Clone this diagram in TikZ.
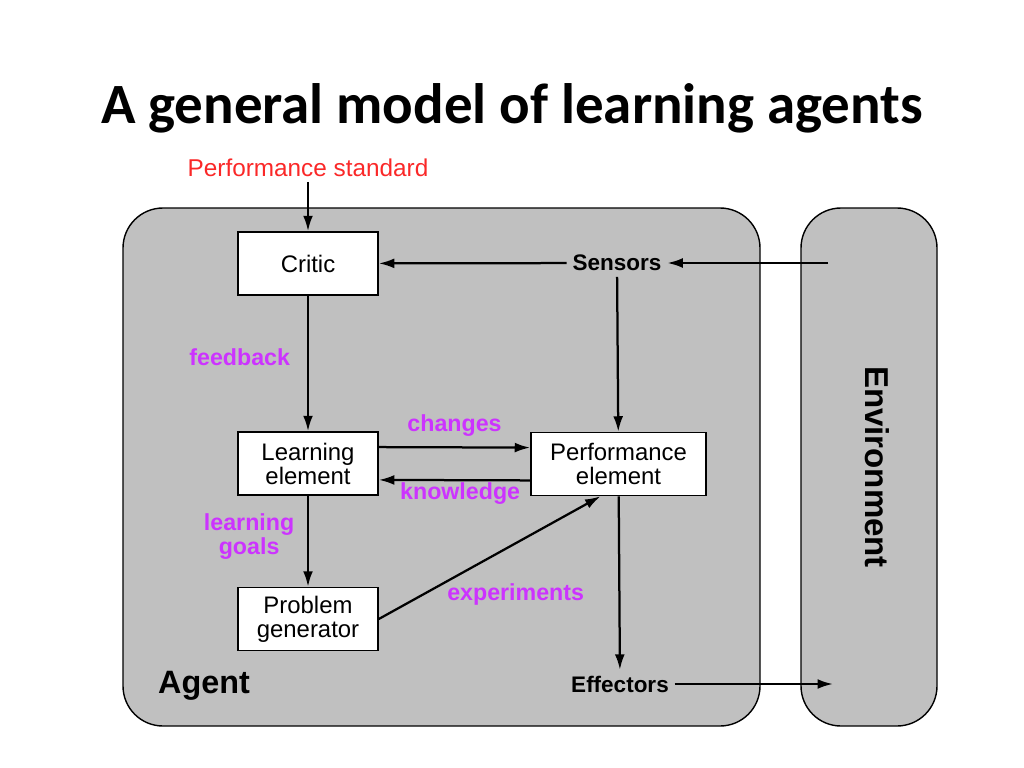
\documentclass[tikz,border=0pt]{standalone}
\usepackage{fontspec}
\setmainfont{Liberation Sans}
\newfontfamily\titlefont{Carlito}
\usetikzlibrary{arrows.meta,positioning}
\definecolor{violet}{RGB}{204,51,255}
\definecolor{stdred}{RGB}{250,40,40}
\definecolor{panel}{RGB}{192,192,192}
\tikzset{font={\fontsize{17pt}{17pt}\selectfont}}
\tikzset{
	block/.style={draw,line width=1.1pt,fill=white,align=center,minimum width=3.5cm,minimum height=1.575cm,inner sep=2pt},
	hint/.style={text=violet,font={\fontsize{16.5pt}{17pt}\selectfont\bfseries},align=center,inner sep=1pt},
	port/.style={font={\fontsize{16pt}{17pt}\selectfont\bfseries},inner sep=4pt},
	panelbox/.style={draw,line width=1pt,fill=panel,rounded corners=1cm},
	arr/.style={line width=1.6pt,-{Latex[length=11pt,width=7pt]}}
}

\begin{document}
\begin{tikzpicture}[x=0.025cm,y=-0.025cm]
	\useasboundingbox (0,0) rectangle (1024,768);
	\node[font={\titlefont\fontsize{40.5pt}{40pt}\selectfont\bfseries}] (title) at (512,108) {A general model of learning agents};
	% agent and environment
	\draw[panelbox] (123,208) rectangle (760,726);
	\draw[panelbox] (801,208) rectangle (937,726);
	\node[font={\fontsize{23pt}{23pt}\selectfont\bfseries}] (agent) at (204,686) {Agent};
	\node[font={\fontsize{23.5pt}{24pt}\selectfont\bfseries},rotate=-90] (env) at (877,467) {Environment};
	%
	\node[text=stdred,font={\fontsize{17.3pt}{17pt}\selectfont}] (std) at (308,168) {Performance standard};
	\node[block] (critic) at (308,263.5) {Critic};
	\node[block] (learn) at (308,463.5) {Learning\\element};
	\node[block] (prob) at (308,619) {Problem\\generator};
	\node[block,minimum width=4.375cm] (perf) at (618.5,464) {Performance\\element};
	\node[port] (sensors) at (617,263) {Sensors};
	\node[port] (effectors) at (620,684) {Effectors};
	\coordinate (envin) at (828,263);
	\coordinate (envout) at (833,684);
	%
	\draw[arr] (std) -- (critic);
	\draw[arr] (sensors) -- (critic);
	\draw[arr] (envin) -- (sensors);
	\draw[arr] (sensors) -- (perf);
	\draw[arr] (critic) -- node[hint,left=11pt,pos=0.45] (fb) {feedback} (learn);
	\draw[arr] ([yshift=0.41cm]learn.east) -- node[hint,above=6pt] (chg) {changes} ([yshift=0.41cm]perf.west);
	\draw[arr] ([yshift=-0.41cm]perf.west) -- node[hint,below=0pt,xshift=4pt] (kn) {knowledge} ([yshift=-0.41cm]learn.east);
	\draw[arr] (learn) -- node[hint,left=8pt,pos=0.45] (lg) {learning\\goals} (prob);
	\draw[arr] (prob.east) -- node[hint,below=17pt,xshift=0.65cm] (exp) {experiments} ([xshift=-0.45cm]perf.south);
	\draw[arr] (perf) -- (effectors);
	\draw[arr] (effectors) -- (envout);
\end{tikzpicture}
\end{document}
